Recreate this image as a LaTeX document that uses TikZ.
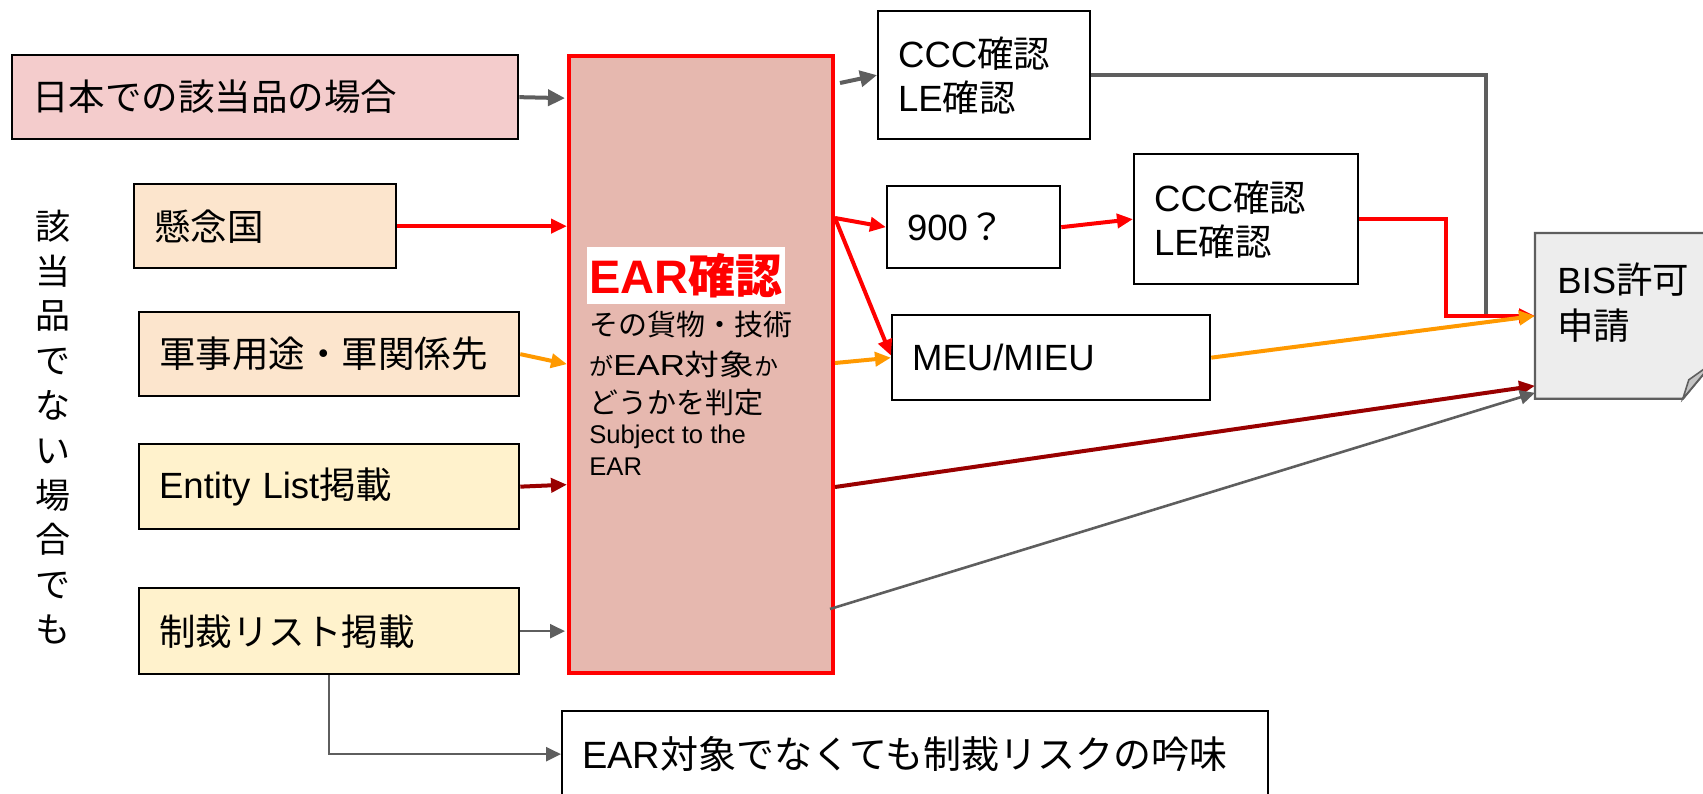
\documentclass[tikz,border=0pt]{standalone}
\usepackage{fontspec}
\setmainfont{Noto Sans CJK JP}
\newfontfamily\lat{Liberation Sans}
\usetikzlibrary{arrows.meta,calc}
\definecolor{cNihon}{HTML}{F4CCCC}
\definecolor{cOrangeL}{HTML}{FCE5CD}
\definecolor{cYellowL}{HTML}{FFF2CC}
\definecolor{cEar}{HTML}{E6B8AF}
\definecolor{cBis}{HTML}{EDEDED}
\definecolor{cFlap}{HTML}{C4C4C4}
\definecolor{cGray}{HTML}{5E5E5E}
\definecolor{cRed}{HTML}{FF0000}
\definecolor{cOrange}{HTML}{FF9900}
\definecolor{cDark}{HTML}{990000}
\begin{document}
\begin{tikzpicture}[x=0.5pt,y=-0.5pt,
  every node/.style={font=\fontsize{18.25}{22}\selectfont},
  box/.style={draw=black, line width=1.15pt, anchor=north west, inner xsep=10pt, inner ysep=0pt, align=left},
  gconn/.style={draw=cGray, line width=2pt, -{Triangle[length=8.5pt,width=8pt]}},
  gline/.style={draw=cGray, line width=1.9pt},
  gthin/.style={draw=cGray, line width=1.3pt, -{Triangle[length=7.5pt,width=7pt]}},
  rconn/.style={draw=cRed, line width=2pt, -{Triangle[length=8pt,width=7pt]}},
  oconn/.style={draw=cOrange, line width=2pt, -{Triangle[length=8pt,width=7pt]}},
  dconn/.style={draw=cDark, line width=2pt, -{Triangle[length=8pt,width=7pt]}},
  eartxt/.style={anchor=base west, inner sep=0pt, font=\fontsize{14.5}{16}\selectfont},
  earsmall/.style={anchor=base west, inner sep=0pt, font=\lat\fontsize{12.8}{14}\selectfont}]
\useasboundingbox (0,0) rectangle (1703,793);
\clip (0,0) rectangle (1703,793);

% left boxes
\node[box, fill=cNihon, minimum width=253pt, minimum height=42pt, text width=233pt] (nihon) at (11,54) {日本での該当品の場合};
\node[box, fill=cOrangeL, minimum width=131pt, minimum height=42pt, text width=111pt] (kenen) at (133,183) {懸念国};
\node[box, fill=cOrangeL, minimum width=190pt, minimum height=42pt, text width=170pt] (gunji) at (138,311) {軍事用途・軍関係先};
\node[box, fill=cYellowL, minimum width=190pt, minimum height=42.5pt, text width=170pt] (entity) at (138,443) {{\lat Entity List}掲載};
\node[box, fill=cYellowL, minimum width=190pt, minimum height=43pt, text width=170pt] (seisai) at (138,587) {制裁リスト掲載};

% vertical text
\node[align=center, inner sep=0pt, font=\fontsize{17.5}{22.4}\selectfont] (vert) at (53,427) {該\\当\\品\\で\\な\\い\\場\\合\\で\\も};

% EAR box
\node[box, fill=cEar, draw=cRed, line width=2pt, minimum width=132pt, minimum height=308.5pt] (ear) at (567,54) {};
\node[anchor=base west, fill=white, inner xsep=1pt, inner ysep=3pt, text=cRed, font=\fontsize{23.5}{25}\selectfont\bfseries] (eartitle) at (587,293) {{\lat\bfseries EAR}確認};
\node[eartxt] (ear1) at (589,335) {その貨物・技術};
\node[eartxt] (ear2) at (589,375) {{\fontsize{12}{12}\selectfont が}\scalebox{1.2}[1]{{\lat EAR}対象}{\fontsize{12}{12}\selectfont か}};
\node[eartxt] (ear3) at (589,413) {どうかを判定};
\node[earsmall] (ear4) at (589,443) {Subject to the};
\node[earsmall] (ear5) at (589,475) {EAR};

% right boxes
\node[box, minimum width=106pt, minimum height=64pt, text width=86pt] (ccc1) at (877,10) {{\lat CCC}確認\\{\lat LE}確認};
\node[box, minimum width=86.5pt, minimum height=41pt, text width=66.5pt] (n900) at (886,185) {{\lat 900}？};
\node[box, minimum width=112pt, minimum height=65pt, text width=92pt] (ccc2) at (1133,153) {{\lat CCC}確認\\{\lat LE}確認};
\node[box, minimum width=159pt, minimum height=42.5pt, text width=139pt] (meu) at (891,314) {{\lat MEU/MIEU}};
\node[box, minimum width=353pt, minimum height=43pt, text width=333pt, font=\fontsize{19}{22}\selectfont] (risk) at (561,710) {{\lat EAR}対象でなくても制裁リスクの吟味};

% BIS document shape
\node[anchor=north west, minimum width=88.5pt, minimum height=82.5pt, inner sep=0pt] (bis) at (1535,233) {};
\draw[draw=cGray, fill=cBis, line width=1.1pt] (bis.north west) -- (bis.north east) -- ($(bis.south east)+(0,-36)$) -- ($(bis.south east)+(-30,0)$) -- (bis.south west) -- cycle;
\draw[draw=cGray, fill=cFlap, line width=0.8pt] ($(bis.south east)+(-30,0)$) -- ($(bis.south east)+(-24,-19)$) -- ($(bis.south east)+(0,-36)$) -- cycle;
\node[anchor=west, inner sep=0pt, align=left, font=\fontsize{18.25}{23}\selectfont] (bistext) at (1557,303) {{\lat BIS}許可\\申請};

% connectors into EAR
\draw[gconn] (nihon.east) -- ($(nihon.east -| ear.west)+(-2,1)$);
\draw[rconn] (kenen.east) -- (kenen.east -| ear.west);
\draw[oconn] (gunji.east) -- ($(gunji.east -| ear.west)+(0,10)$);
\draw[dconn] (entity.east) -- ($(entity.east -| ear.west)+(0,-2)$);
\draw[gthin] (seisai.east) -- ($(seisai.east -| ear.west)+(-2,0)$);
\draw[gthin] (seisai.south) |- (risk.west);

% connectors out of EAR
\coordinate (eo1) at ($(ear.north east)+(5,29)$);
\coordinate (eo2) at ($(ear.north east)+(0,164)$);
\coordinate (eo3) at ($(ear.north east)+(0,309)$);
\coordinate (eo4) at ($(ear.north east)+(0,433)$);
\coordinate (eo5) at ($(ear.north east)+(-5,555)$);
\draw[gconn] (eo1) -- (ccc1.west);
\draw[rconn] (eo2) -- (n900.west);
\draw[rconn] (eo2) -- ($(meu.west)+(0,-2)$);
\draw[oconn] (eo3) -- (meu.west);
\draw[rconn] (n900.east) -- (ccc2.west);

% to BIS
\draw[gline] (ccc1.east) -| ($(bis.west)+(-49,-2)$);
\draw[rconn] (ccc2.east) -| ($(bis.west)+(-89,0)$) -- (bis.west);
\draw[oconn] (meu.east) -- (bis.west);
\draw[dconn] (eo4) -- ($(bis.south west)+(0,-13)$);
\draw[gthin] (eo5) -- ($(bis.south west)+(0,-6)$);
\end{tikzpicture}
\end{document}
